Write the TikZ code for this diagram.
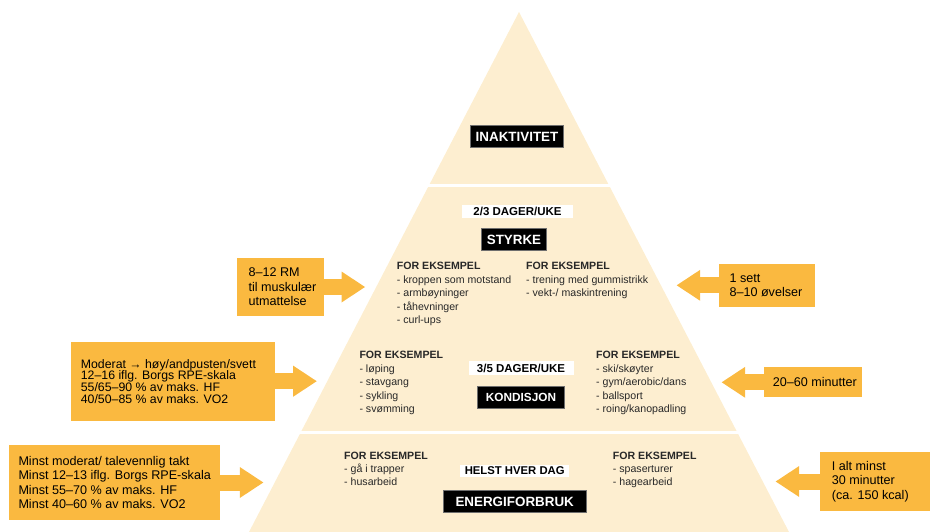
\documentclass[tikz,border=0pt]{standalone}
\usepackage{fontspec}
\setmainfont{Liberation Sans}
\usetikzlibrary{arrows.meta}
\definecolor{cream}{RGB}{253,238,208}
\definecolor{orng}{RGB}{250,185,64}
\definecolor{txtgray}{RGB}{40,40,40}
\definecolor{edgegray}{RGB}{110,110,110}
\lineskiplimit=-50pt
\begin{document}
\begin{tikzpicture}[x=1pt,y=-1pt,
 blk/.style={fill=black,draw=edgegray,line width=0.6pt,text=white,font=\fontsize{13.4}{14}\selectfont\bfseries,inner sep=0,minimum height=22pt},
 wht/.style={fill=white,text=black,font=\fontsize{11.5}{12}\selectfont\bfseries,inner sep=0},
 small/.style={font=\fontsize{10.6}{13.5}\selectfont,text=txtgray,align=left,anchor=north west,inner sep=0},
 obox/.style={fill=orng,inner sep=0},
 otext/.style={align=left,anchor=west,inner sep=0,text=black,font=\fontsize{12.6}{14.5}\selectfont},
 oarrow/.style={draw=orng,fill=orng,line width=16pt,-{Triangle[length=23.5pt,width=31pt,line width=0pt]}}
]
\useasboundingbox (0,0) rectangle (944,532);
% pyramid
\fill[cream] (519,12) -- (249,532) -- (789,532) -- cycle;
\draw[white,line width=3pt] (420,185) -- (620,185);
\draw[white,line width=3pt] (290,432) -- (750,432);

% labels
\node[blk,minimum width=93pt] (inak) at (517,136.5) {INAKTIVITET};
\node[wht,minimum width=111pt,minimum height=13.5pt] (d23) at (517.5,211.5) {2/3 DAGER/UKE};
\node[blk,minimum width=65pt] (styrke) at (514,239.5) {STYRKE};
\node[wht,minimum width=105pt,minimum height=14.3pt] (d35) at (521,368) {3/5 DAGER/UKE};
\node[blk,minimum width=87pt,font=\fontsize{11.8}{12}\selectfont\bfseries] (kond) at (521,397.5) {KONDISJON};
\node[wht,minimum width=109pt,minimum height=12.5pt,font=\fontsize{11.3}{12}\selectfont\bfseries] (helst) at (514.7,471) {HELST HVER DAG};
\node[blk,minimum width=143pt] (energi) at (514.7,501.5) {ENERGIFORBRUK};

% example lists
\node[small] (s1) at (396.7,262) {\textbf{FOR EKSEMPEL}\\- kroppen som motstand\\- armbøyninger\\- tåhevninger\\- curl-ups};
\node[small] (s2) at (526,262) {\textbf{FOR EKSEMPEL}\\- trening med gummistrikk\\- vekt-/ maskintrening};
\node[small] (k1) at (359.3,351) {\textbf{FOR EKSEMPEL}\\- løping\\- stavgang\\- sykling\\- svømming};
\node[small] (k2) at (596,351) {\textbf{FOR EKSEMPEL}\\- ski/skøyter\\- gym/aerobic/dans\\- ballsport\\- roing/kanopadling};
\node[small,font=\fontsize{10.6}{13.3}\selectfont] (e1) at (344,451.7) {\textbf{FOR EKSEMPEL}\\- gå i trapper\\- husarbeid};
\node[small,font=\fontsize{10.6}{13.3}\selectfont] (e2) at (612.7,451.7) {\textbf{FOR EKSEMPEL}\\- spaserturer\\- hagearbeid};

% orange boxes
\node[obox,minimum width=87pt,minimum height=58pt] (bA) at (280.5,287) {};
\node[obox,minimum width=96pt,minimum height=42.7pt] (bB) at (767.3,285.3) {};
\node[obox,minimum width=97.4pt,minimum height=30pt] (bC) at (813,382.3) {};
\node[obox,minimum width=204.3pt,minimum height=79pt] (bD) at (172.8,381.2) {};
\node[obox,minimum width=210.7pt,minimum height=75pt] (bE) at (114.7,482.5) {};
\node[obox,minimum width=110pt,minimum height=58.4pt] (bF) at (875,481.5) {};

% arrow tips
\coordinate (pA) at (365,287);
\coordinate (pB) at (676.7,285.3);
\coordinate (pC) at (721.7,382.3);
\coordinate (pD) at (316.7,381.2);
\coordinate (pE) at (263.3,482.5);
\coordinate (pF) at (775.7,481.5);
\draw[oarrow] (bA.east) -- (pA);
\draw[oarrow] (bB.west) -- (pB);
\draw[oarrow] (bC.west) -- (pC);
\draw[oarrow] (bD.east) -- (pD);
\draw[oarrow] (bE.east) -- (pE);
\draw[oarrow] (bF.west) -- (pF);

% box texts
\node[otext,font=\fontsize{12.6}{14.6}\selectfont] (tA) at (248.3,287) {8–12 RM\\til muskulær\\utmattelse};
\node[otext,font=\fontsize{12.6}{14.3}\selectfont] (tB) at (729.3,285.3) {1 sett\\8–10 øvelser};
\node[otext] (tC) at (772.7,382.3) {20–60 minutter};
\node[otext,font=\fontsize{12.3}{11.7}\selectfont] (tD) at (80.7,381.2) {Moderat \textbf{→} høy/andpusten/svett\\12–16 iflg. Borgs RPE-skala\\55/65–90 \% av maks. HF\\40/50–85 \% av maks. VO2};
\node[otext,font=\fontsize{12.6}{14.1}\selectfont] (tE) at (18.3,482.5) {Minst moderat/ talevennlig takt\\Minst 12–13 iflg. Borgs RPE-skala\\Minst 55–70 \% av maks. HF\\Minst 40–60 \% av maks. VO2};
\node[otext,font=\fontsize{12.6}{14.5}\selectfont] (tF) at (831.7,481.5) {I alt minst\\30 minutter\\(ca. 150 kcal)};
\end{tikzpicture}
\end{document}
